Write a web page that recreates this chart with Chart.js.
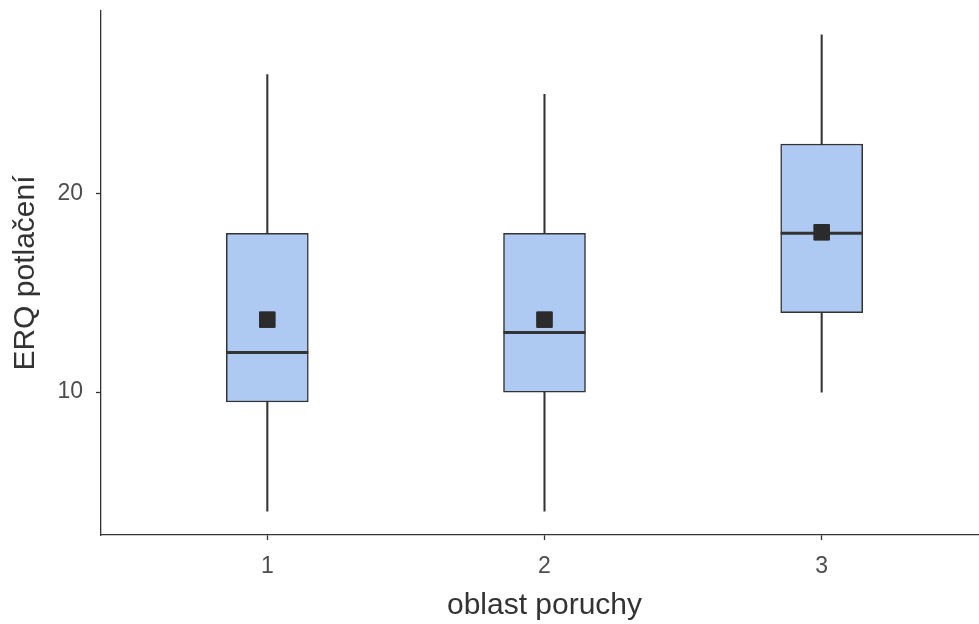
<!DOCTYPE html>
<html>
<head>
<meta charset="utf-8">
<script src="https://cdn.jsdelivr.net/npm/chart.js@4.4.1/dist/chart.umd.min.js"></script>
<style>
  html, body { margin: 0; padding: 0; background: #fff; overflow: hidden; }
  #wrap { width: 988px; height: 624px; }
</style>
</head>
<body>
<div id="wrap"><canvas id="box"></canvas></div>
<script>
// box plot values per group (oblast poruchy 1..3)
const groups = [1, 2, 3];
const whiskerLow = [4, 4, 10];
const q1 = [9.5, 10, 14];
const median = [12, 13, 18];
const q3 = [18, 18, 22.5];
const whiskerHigh = [26, 25, 28];
const means = [13.65, 13.65, 18.05];
const yTicks = [10, 20];

const ink = '#333333';
const boxFill = '#aec9f2';

const ctx = document.getElementById('box').getContext('2d');

new Chart(ctx, {
    type: 'bar',
    data: {
        datasets: [
            {
                // whiskers
                type: 'bar',
                data: groups.map((g, i) => ({ x: g, y: [whiskerLow[i], whiskerHigh[i]] })),
                backgroundColor: ink,
                barThickness: 1.4,
                grouped: false,
                order: 3
            },
            {
                // boxes
                type: 'bar',
                data: groups.map((g, i) => ({ x: g, y: [q1[i], q3[i]] })),
                backgroundColor: boxFill,
                borderColor: ink,
                borderWidth: 1.5,
                borderSkipped: false,
                barThickness: 82,
                grouped: false,
                order: 2
            },
            {
                // medians
                type: 'scatter',
                data: groups.map((g, i) => ({ x: g, y: median[i] })),
                pointStyle: 'line',
                radius: 41,
                borderColor: ink,
                borderWidth: 3,
                order: 1
            },
            {
                // means
                type: 'scatter',
                data: groups.map((g, i) => ({ x: g, y: means[i] })),
                pointStyle: 'rect',
                radius: 11,
                backgroundColor: '#2b2b2b',
                borderColor: '#2b2b2b',
                borderWidth: 1,
                order: 0
            }
        ]
    },
    options: {
        responsive: true,
        maintainAspectRatio: false,
        animation: false,
        layout: { autoPadding: false, padding: { top: 11, right: 0, left: 0, bottom: 0 } },
        plugins: {
            legend: { display: false },
            tooltip: { enabled: false }
        },
        scales: {
            x: {
                type: 'linear',
                min: 0.4,
                max: 3.6,
                offset: false,
                afterBuildTicks: s => { s.ticks = groups.map(v => ({ value: v })); },
                afterFit: s => { s.height = 89; s.paddingLeft = 0; s.paddingRight = 0; },
                border: { display: true, color: ink, width: 1.3 },
                grid: { offset: false, drawOnChartArea: false, tickLength: 5, color: ink, tickWidth: 1.3 },
                ticks: {
                    color: '#4d4d4d',
                    padding: 13,
                    font: { family: 'Liberation Sans', size: 23 }
                },
                title: {
                    display: true,
                    text: 'oblast poruchy',
                    color: '#333333',
                    font: { family: 'Liberation Sans', size: 30 },
                    padding: { top: 0, bottom: 0 }
                }
            },
            y: {
                min: 2.8,
                max: 29.2,
                afterBuildTicks: s => { s.ticks = yTicks.map(v => ({ value: v })); },
                afterFit: s => { s.width = 101; s.paddingTop = 0; s.paddingBottom = 0; },
                border: { display: true, color: ink, width: 1.3 },
                grid: { drawOnChartArea: false, tickLength: 5, color: ink, tickWidth: 1.3 },
                ticks: {
                    color: '#4d4d4d',
                    padding: 13,
                    font: { family: 'Liberation Sans', size: 23 }
                },
                title: {
                    display: true,
                    text: 'ERQ potlačení',
                    color: '#333333',
                    font: { family: 'Liberation Sans', size: 30 },
                    padding: { top: 8, bottom: 0 }
                }
            }
        }
    }
});
</script>
</body>
</html>
